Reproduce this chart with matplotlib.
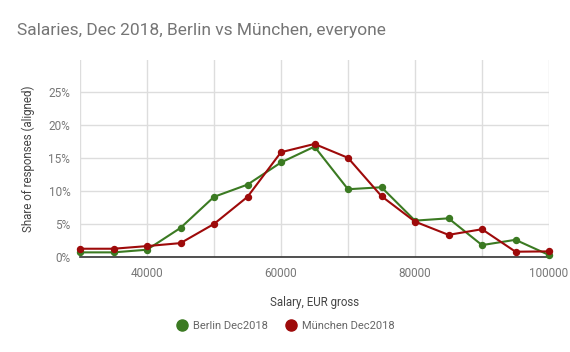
import numpy as np
import matplotlib
matplotlib.use("Agg")
import matplotlib.pyplot as plt
from matplotlib.ticker import FuncFormatter, MultipleLocator
from matplotlib.lines import Line2D

plt.rcParams['font.family'] = ['Roboto', 'DejaVu Sans']

salary = [30000, 35000, 40000, 45000, 50000, 55000, 60000, 65000,
          70000, 75000, 80000, 85000, 90000, 95000, 100000]
berlin = [0.7, 0.7, 1.1, 4.4, 9.1, 10.95, 14.3, 16.7,
          10.25, 10.55, 5.5, 5.85, 1.8, 2.6, 0.3]
munich = [1.25, 1.25, 1.65, 2.1, 5.0, 9.1, 15.85, 17.1,
          15.0, 9.2, 5.35, 3.35, 4.2, 0.8, 0.85]
labels = ['Berlin Dec2018', 'München Dec2018']
colors = ['#3b7a22', '#9e0a0a']

fig = plt.figure(figsize=(5.7, 3.52), dpi=100)
ax = fig.add_axes([80/570, 1-257/352, (549-80)/570, (257-60)/352])

for vals, c in zip([berlin, munich], colors):
    ax.plot(salary, np.array(vals)/100, color=c, lw=1.5, marker='o', ms=4.3,
            clip_on=False, zorder=3)

ax.set_xlim(30000, 100000)
ax.set_ylim(0, 0.298)
ax.xaxis.set_major_locator(MultipleLocator(10000))
ax.xaxis.set_major_formatter(FuncFormatter(lambda v, p: f"{int(v)}" if v in (40000, 60000, 80000, 100000) else ""))
ax.set_yticks([0, 0.05, 0.10, 0.15, 0.20, 0.25])
ax.yaxis.set_major_formatter(FuncFormatter(lambda v, p: f"{round(v*100)}%"))
ax.grid(True, color='#dddddd', lw=1)
ax.set_axisbelow(True)
for s in ['top', 'left', 'right']:
    ax.spines[s].set_visible(False)
ax.spines['bottom'].set_color('#333333')
ax.spines['bottom'].set_linewidth(1.2)
ax.spines['bottom'].set_zorder(2)
ax.tick_params(length=0, labelsize=8.5, labelcolor='#777777', pad=7)

ax.set_xlabel('Salary, EUR gross', fontsize=8.3, color='#444444', labelpad=12)
ax.set_ylabel('Share of responses (aligned)', fontsize=8.3, color='#444444', labelpad=10)

fig.text(17/570, 1-30/352, 'Salaries, Dec 2018, Berlin vs München, everyone',
         fontsize=12.5, color='#757575', va='center', ha='left')

handles = [Line2D([], [], ls='none', marker='o', ms=8, color=c) for c in colors]
fig.legend(handles, labels, loc='center', bbox_to_anchor=(0.5, 1-326/352), ncol=2,
           frameon=False, fontsize=8, labelcolor='#666666', handletextpad=0.4,
           columnspacing=1.4, handlelength=1.2)

fig.savefig('out.png', dpi=100)
